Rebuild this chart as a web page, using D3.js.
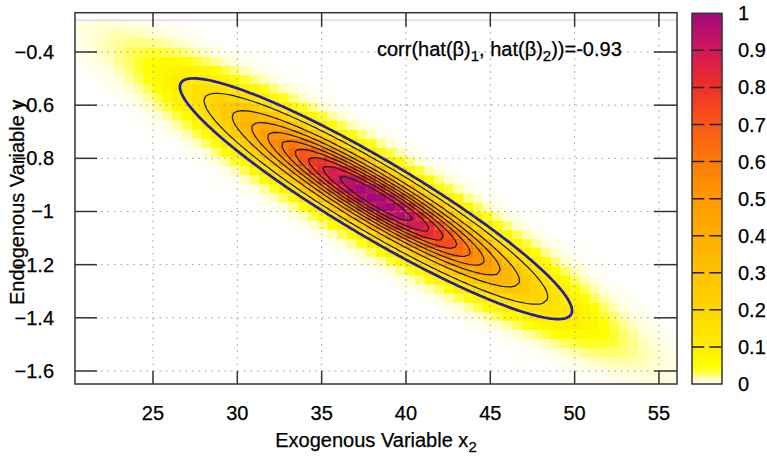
<!DOCTYPE html>
<html>
<head>
<meta charset="utf-8">
<script src="https://cdn.jsdelivr.net/npm/d3@7"></script>
<style>
html, body { margin: 0; padding: 0; background: #fff; }
svg { display: block; font-family: "Liberation Sans", Arial, Helvetica, sans-serif; }
</style>
</head>
<body>
<svg id="chart" width="767" height="460"></svg>
<script>
// Joint density of the two estimates: centre, spread and correlation
const estimateMean = [38.22, -0.952];
const estimateSd = [4.75, 0.185];
const estimateCorr = -0.93;

// Window over which the density map is sampled, its cell counts and shading gamma
const gridXExtent = [20.38, 56.07];
const gridYExtent = [-1.65, -0.28];
const gridCells = [62, 40];
const mapGamma = 0.75;

// Axis ranges and tick values
const xRange = [20.376, 56.07];
const yRange = [-1.649, -0.2521];
const xTicks = [25, 30, 35, 40, 45, 50, 55];
const yTicks = [-0.4, -0.6, -0.8, -1, -1.2, -1.4, -1.6];
const cbTicks = [0, 0.1, 0.2, 0.3, 0.4, 0.5, 0.6, 0.7, 0.8, 0.9, 1];

// Contour levels (relative density) and the 95% confidence contour
const contourLevels = [0.1, 0.2, 0.3, 0.4, 0.5, 0.6, 0.7, 0.8, 0.9];
const confidenceLevel = [0.05];

// Colour palette
const paletteStops = [0, 0.01, 0.025, 0.045, 0.1, 0.2, 0.3, 0.4, 0.5, 0.6, 0.7, 0.8, 0.9, 1];
const paletteColors = ["#ffffff", "#ffffd0", "#ffff70", "#ffff00", "#ffec00", "#ffd600", "#ffc200",
                       "#ffad00", "#ff9800", "#fc7c08", "#f95818", "#ef3028", "#d21858", "#a0087f"];

const plot = { left: 75, top: 12.7, right: 677, bottom: 384 };
const cb = { left: 692, right: 722, top: 13.3, bottom: 384 };
const fontSize = 20;

const svg = d3.select("#chart");
const x = d3.scaleLinear().domain(xRange).range([plot.left, plot.right]);
const y = d3.scaleLinear().domain(yRange).range([plot.bottom, plot.top]);
const color = d3.scaleLinear().domain(paletteStops).range(paletteColors)
  .interpolate(d3.interpolateRgb).clamp(true);

function density(px, py) {
  const u = (px - estimateMean[0]) / estimateSd[0];
  const v = (py - estimateMean[1]) / estimateSd[1];
  const q = (u * u - 2 * estimateCorr * u * v + v * v) / (1 - estimateCorr * estimateCorr);
  return Math.exp(-q / 2);
}

svg.append("defs").append("clipPath").attr("id", "plotClip")
  .append("rect")
  .attr("x", plot.left).attr("y", plot.top)
  .attr("width", plot.right - plot.left).attr("height", plot.bottom - plot.top);

// Density map cells
const dx = (gridXExtent[1] - gridXExtent[0]) / gridCells[0];
const dy = (gridYExtent[1] - gridYExtent[0]) / gridCells[1];
const cells = [];
for (let j = 0; j < gridCells[1]; j++) {
  for (let i = 0; i < gridCells[0]; i++) {
    const x0 = gridXExtent[0] + i * dx, y0 = gridYExtent[0] + j * dy;
    const v = Math.pow(density(x0 + dx / 2, y0 + dy / 2), mapGamma);
    cells.push({ x0, x1: x0 + dx, y0, y1: y0 + dy, v });
  }
}
const mapLayer = svg.append("g").attr("clip-path", "url(#plotClip)");
mapLayer.selectAll("rect.cell").data(cells).join("rect")
  .attr("class", "cell")
  .attr("x", d => x(d.x0))
  .attr("y", d => y(d.y1))
  .attr("width", d => x(d.x1) - x(d.x0) + 0.4)
  .attr("height", d => y(d.y0) - y(d.y1) + 0.4)
  .attr("fill", d => color(d.v));

// thin edge along the top of the sampled window
mapLayer.append("line")
  .attr("x1", x(gridXExtent[0])).attr("x2", x(gridXExtent[1]))
  .attr("y1", y(gridYExtent[1])).attr("y2", y(gridYExtent[1]))
  .attr("stroke", "#e4b8ee").attr("stroke-width", 1);

// Grid
const gridG = svg.append("g").attr("stroke", "#9a9a9a").attr("stroke-width", 1)
  .attr("stroke-dasharray", "1.5,5");
gridG.selectAll("line.gx").data(xTicks).join("line").attr("class", "gx")
  .attr("x1", d => x(d)).attr("x2", d => x(d))
  .attr("y1", plot.top).attr("y2", plot.bottom);
gridG.selectAll("line.gy").data(yTicks).join("line").attr("class", "gy")
  .attr("y1", d => y(d)).attr("y2", d => y(d))
  .attr("x1", plot.left).attr("x2", plot.right);

// Contour paths: density sampled on an n×m lattice, traced with d3.contours
function contourPaths(n, m, levels) {
  const sx = (gridXExtent[1] - gridXExtent[0]) / (n - 1);
  const sy = (gridYExtent[1] - gridYExtent[0]) / (m - 1);
  const values = new Float64Array(n * m);
  for (let j = 0; j < m; j++) {
    for (let i = 0; i < n; i++) {
      values[j * n + i] = density(gridXExtent[0] + i * sx, gridYExtent[0] + j * sy);
    }
  }
  const toScreen = d3.geoTransform({
    point(px, py) {
      this.stream.point(x(gridXExtent[0] + (px - 0.5) * sx), y(gridYExtent[0] + (py - 0.5) * sy));
    }
  });
  return { shapes: d3.contours().size([n, m]).thresholds(levels)(values), path: d3.geoPath(toScreen) };
}

const contourG = svg.append("g").attr("clip-path", "url(#plotClip)").attr("fill", "none");
const levelSet = contourPaths(131, 87, contourLevels);
contourG.selectAll("path.level").data(levelSet.shapes).join("path")
  .attr("class", "level")
  .attr("d", levelSet.path)
  .attr("stroke", "#1c1c1c").attr("stroke-width", 1.2).attr("stroke-linejoin", "round");
const confSet = contourPaths(241, 161, confidenceLevel);
contourG.selectAll("path.conf").data(confSet.shapes).join("path")
  .attr("class", "conf")
  .attr("d", confSet.path)
  .attr("stroke", "#24209c").attr("stroke-width", 2.7).attr("stroke-linejoin", "round");

// Frame and ticks
const axisColor = "#333";
const tickG = svg.append("g").attr("stroke", axisColor).attr("stroke-width", 1.5);
xTicks.forEach(t => {
  tickG.append("line").attr("x1", x(t)).attr("x2", x(t)).attr("y1", plot.bottom).attr("y2", plot.bottom - 13);
  tickG.append("line").attr("x1", x(t)).attr("x2", x(t)).attr("y1", plot.top).attr("y2", plot.top + 14);
});
yTicks.forEach(t => {
  tickG.append("line").attr("y1", y(t)).attr("y2", y(t)).attr("x1", plot.left).attr("x2", plot.left + 22);
  tickG.append("line").attr("y1", y(t)).attr("y2", y(t)).attr("x1", plot.right).attr("x2", plot.right - 23);
});
svg.append("rect")
  .attr("x", plot.left).attr("y", plot.top)
  .attr("width", plot.right - plot.left).attr("height", plot.bottom - plot.top)
  .attr("fill", "none").attr("stroke", axisColor).attr("stroke-width", 1.5);

// Tick labels
const textG = svg.append("g").attr("font-size", fontSize).attr("fill", "#000")
  .attr("stroke", "#000").attr("stroke-width", 0.25);
textG.selectAll("text.xt").data(xTicks).join("text").attr("class", "xt")
  .attr("x", d => x(d)).attr("y", 420).attr("text-anchor", "middle")
  .text(d => d);
textG.selectAll("text.yt").data(yTicks).join("text").attr("class", "yt")
  .attr("x", 54).attr("y", d => y(d)).attr("dy", "0.35em").attr("text-anchor", "end")
  .text(d => d3.format("")(d));

// Axis titles
const xt = textG.append("text").attr("x", (plot.left + plot.right) / 2).attr("y", 447)
  .attr("text-anchor", "middle");
xt.append("tspan").text("Exogenous Variable x");
xt.append("tspan").attr("font-size", fontSize * 0.75).attr("dy", 5).text("2");

textG.append("text")
  .attr("transform", `translate(24,${(plot.top + plot.bottom) / 2 + 4}) rotate(-90)`)
  .attr("text-anchor", "middle")
  .text("Endogenous Variable y");

// Correlation annotation
const ann = textG.append("text").attr("x", 377).attr("y", 56);
ann.append("tspan").text("corr(hat(β)");
ann.append("tspan").attr("font-size", fontSize * 0.75).attr("dy", 5).text("1");
ann.append("tspan").attr("dy", -5).text(", hat(β)");
ann.append("tspan").attr("font-size", fontSize * 0.75).attr("dy", 5).text("2");
ann.append("tspan").attr("dy", -5).text("))=" + estimateCorr.toFixed(2));

// Colour box
const cbScale = d3.scaleLinear().domain([0, 1]).range([cb.bottom, cb.top]);
const grad = svg.select("defs").append("linearGradient").attr("id", "cbGrad")
  .attr("x1", 0).attr("x2", 0).attr("y1", 1).attr("y2", 0);
grad.selectAll("stop").data(d3.range(0, 1.0001, 0.005)).join("stop")
  .attr("offset", d => d).attr("stop-color", d => color(d));
svg.append("rect")
  .attr("x", cb.left).attr("y", cb.top)
  .attr("width", cb.right - cb.left).attr("height", cb.bottom - cb.top)
  .attr("fill", "url(#cbGrad)");
svg.append("g").selectAll("line").data(contourLevels).join("line")
  .attr("x1", cb.left).attr("x2", cb.right)
  .attr("y1", d => cbScale(d)).attr("y2", d => cbScale(d))
  .attr("stroke", "#222").attr("stroke-width", 1.5).attr("stroke-dasharray", "12.3,5");
svg.append("rect")
  .attr("x", cb.left).attr("y", cb.top)
  .attr("width", cb.right - cb.left).attr("height", cb.bottom - cb.top)
  .attr("fill", "none").attr("stroke", axisColor).attr("stroke-width", 1.5);
textG.selectAll("text.cbt").data(cbTicks).join("text").attr("class", "cbt")
  .attr("x", 738).attr("y", d => cbScale(d)).attr("dy", "0.35em")
  .text(d => d3.format("")(d));
</script>
</body>
</html>
